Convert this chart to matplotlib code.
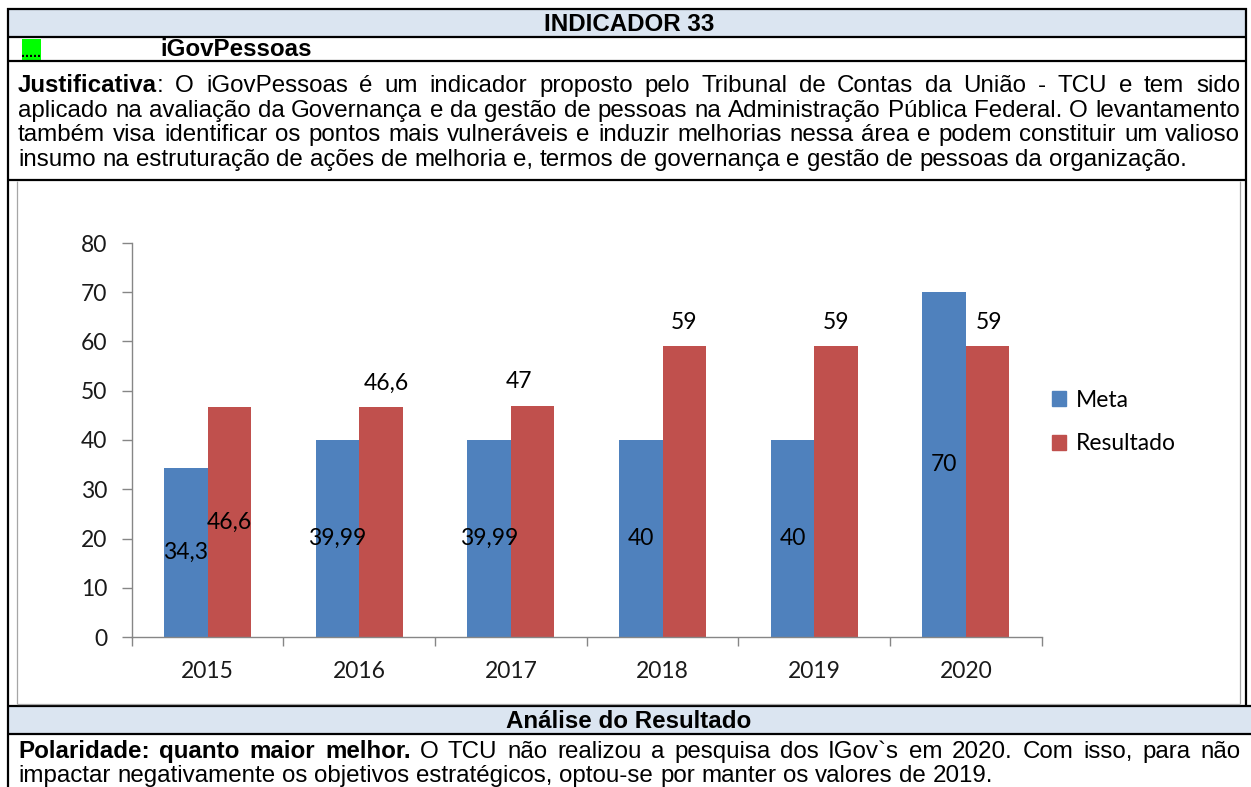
import matplotlib
matplotlib.use('Agg')
import matplotlib.pyplot as plt
import numpy as np
from matplotlib.patches import Rectangle

# ---------------- data ----------------
years = ['2015', '2016', '2017', '2018', '2019', '2020']
meta = [34.3, 39.99, 39.99, 40, 40, 70]
resultado = [46.6, 46.6, 47, 59, 59, 59]
meta_labels = ['34,3', '39,99', '39,99', '40', '40', '70']
res_labels = ['46,6', '46,6', '47', '59', '59', '59']
yticks = [0, 10, 20, 30, 40, 50, 60, 70, 80]
series_names = ['Meta', 'Resultado']

title = 'INDICADOR 33'
subtitle = 'iGovPessoas'
just_lines = [
    [[('Justificativa', True), (':', False)], 'O iGovPessoas é um indicador proposto pelo Tribunal de Contas da União - TCU e tem sido'],
    [[], 'aplicado na avaliação da Governança e da gestão de pessoas na Administração Pública Federal. O levantamento'],
    [[], 'também visa identificar os pontos mais vulneráveis e induzir melhorias nessa área e podem constituir um valioso'],
    [[], 'insumo na estruturação de ações de melhoria e, termos de governança e gestão de pessoas da organização.'],
]
analise_title = 'Análise do Resultado'
analise_lines = [
    ['Polaridade: quanto maior melhor.', 'O TCU não realizou a pesquisa dos IGov`s em 2020. Com isso, para não'],
    ['', 'impactar negativamente os objetivos estratégicos, optou-se por manter os valores de 2019.'],
]

# ---------------- style ----------------
W, H = 1251, 787
BLUE = '#4F81BD'
RED = '#C0504D'
HEAD_BG = '#DBE5F1'
GRID = '#868686'
TFONT = 'Liberation Sans'
CFONT = 'Lato'
TFS = 17.4
CFS = 16.5

fig = plt.figure(figsize=(W / 100, H / 100), dpi=100)
bg = fig.add_axes([0, 0, 1, 1])
bg.set_xlim(0, W)
bg.set_ylim(H, 0)
bg.axis('off')
renderer = fig.canvas.get_renderer()

# table backgrounds
bg.add_patch(Rectangle((8, 9), 1238, 28, facecolor=HEAD_BG, edgecolor='none'))
bg.add_patch(Rectangle((8, 706), 1243, 28, facecolor=HEAD_BG, edgecolor='none'))
bg.add_patch(Rectangle((22, 39), 19, 21, facecolor='#00FF00', edgecolor='none'))

lw = 1.6
def hline(y, x0, x1, c='black', w=lw):
    bg.plot([x0, x1], [y, y], color=c, lw=w, solid_capstyle='butt')
def vline(x, y0, y1, c='black', w=lw):
    bg.plot([x, x], [y0, y1], color=c, lw=w, solid_capstyle='butt')

hline(9, 7, 1247)
hline(37, 7, 1247)
hline(61, 7, 1247)
hline(180, 7, 1247)
hline(706, 7, 1251)
hline(734, 7, 1251)
vline(8, 8, 787)
vline(1246, 8, 706)
# chart frame (light gray)
vline(17, 181, 704, c='#A6A6A6', w=0.9)
vline(1240, 181, 704, c='#A6A6A6', w=0.9)
hline(704, 17, 1240, c='#A6A6A6', w=0.9)

def tw(s, bold=False, size=TFS):
    t = bg.text(0, 0, s, fontsize=size, family=TFONT, fontweight='bold' if bold else 'normal')
    w = t.get_window_extent(renderer).width
    t.remove()
    return w

space_w = tw('a a') - tw('aa')

def draw_line(words, y, x0=18, x1=1240, justify=True):
    # words: list of list of (text, bold) segments
    widths = [sum(tw(s, b) for s, b in wd) for wd in words]
    total = sum(widths)
    if justify and len(words) > 1:
        gap = (x1 - x0 - total) / (len(words) - 1)
    else:
        gap = space_w
    x = x0
    for wd in words:
        for s, b in wd:
            bg.text(round(x), y, s, fontsize=TFS, family=TFONT, fontweight='bold' if b else 'normal',
                    ha='left', va='baseline', color='black')
            x += tw(s, b)
        x += gap

# header texts
bg.text(629, 31, title, fontsize=TFS, family=TFONT, fontweight='bold', ha='center', va='baseline')
bg.text(31.5, 57, '.....', fontsize=10, family=TFONT, fontweight='bold', ha='center', va='baseline')
bg.text(160, 56, subtitle, fontsize=TFS, family=TFONT, fontweight='bold', ha='left', va='baseline')

base = [92, 117, 141, 166]
for i, (pre, rest) in enumerate(just_lines):
    words = []
    if pre:
        words.append(pre)
    words += [[(w, False)] for w in rest.split(' ')]
    draw_line(words, base[i], justify=(i < len(just_lines) - 1))

bg.text(629, 728, analise_title, fontsize=TFS, family=TFONT, fontweight='bold', ha='center', va='baseline')
abase = [758, 782]
for i, (bold_part, rest) in enumerate(analise_lines):
    words = []
    if bold_part:
        words += [[(w, True)] for w in bold_part.split(' ')]
    words += [[(w, False)] for w in rest.split(' ')]
    draw_line(words, abase[i], justify=(i < len(analise_lines) - 1))

# ---------------- chart ----------------
ax = fig.add_axes([131.7 / W, (H - 637) / H, 910 / W, (637 - 243) / H])
x = np.arange(len(years))
bw = 0.286
b1 = ax.bar(x - bw / 2, meta, bw, color=BLUE, label=series_names[0], zorder=2)
b2 = ax.bar(x + bw / 2, resultado, bw, color=RED, label=series_names[1], zorder=2)
ax.set_xlim(-0.5, len(years) - 0.5)
ax.set_ylim(0, 80)
ax.set_yticks(yticks)
ax.set_xticks(x)
ax.set_xticklabels(years)
ax.set_xticks(np.arange(len(years) + 1) - 0.5, minor=True)
for s in ['top', 'right']:
    ax.spines[s].set_visible(False)
for s in ['left', 'bottom']:
    ax.spines[s].set_color(GRID)
    ax.spines[s].set_linewidth(1)
ax.tick_params(axis='y', length=7, width=1, color=GRID, pad=10.5, labelsize=CFS, labelcolor='#1a1a1a')
ax.tick_params(axis='x', which='major', length=0, pad=17.5, labelsize=CFS, labelcolor='#1a1a1a')
ax.tick_params(axis='x', which='minor', length=6.5, width=1, color=GRID)
for lab in ax.get_xticklabels() + ax.get_yticklabels():
    lab.set_family(CFONT)

lab_kw = dict(fontsize=CFS, family=CFONT, color='black')
ax.bar_label(b1, labels=meta_labels, label_type='center', **lab_kw)
center_res = [res_labels[0]] + [''] * (len(res_labels) - 1)
ax.bar_label(b2, labels=center_res, label_type='center', **lab_kw)
res_dx = [0, 4, -10, 0, 0, 1]
for i in range(1, len(years)):
    ax.annotate(res_labels[i], (x[i] + bw / 2, resultado[i]), xytext=(res_dx[i], 10),
                textcoords='offset points', ha='center', va='bottom', **lab_kw)

handles = [Rectangle((0, 0), 1, 1, color=BLUE), Rectangle((0, 0), 1, 1, color=RED)]
fig.legend(handles, series_names, loc='center left', bbox_to_anchor=(1052 / W, 1 - 422 / H),
           frameon=False, prop={'family': CFONT, 'size': CFS}, handlelength=0.6, handleheight=0.6,
           handletextpad=0.45, labelspacing=1.0, borderpad=0, borderaxespad=0)

fig.savefig('out.png', dpi=100)
